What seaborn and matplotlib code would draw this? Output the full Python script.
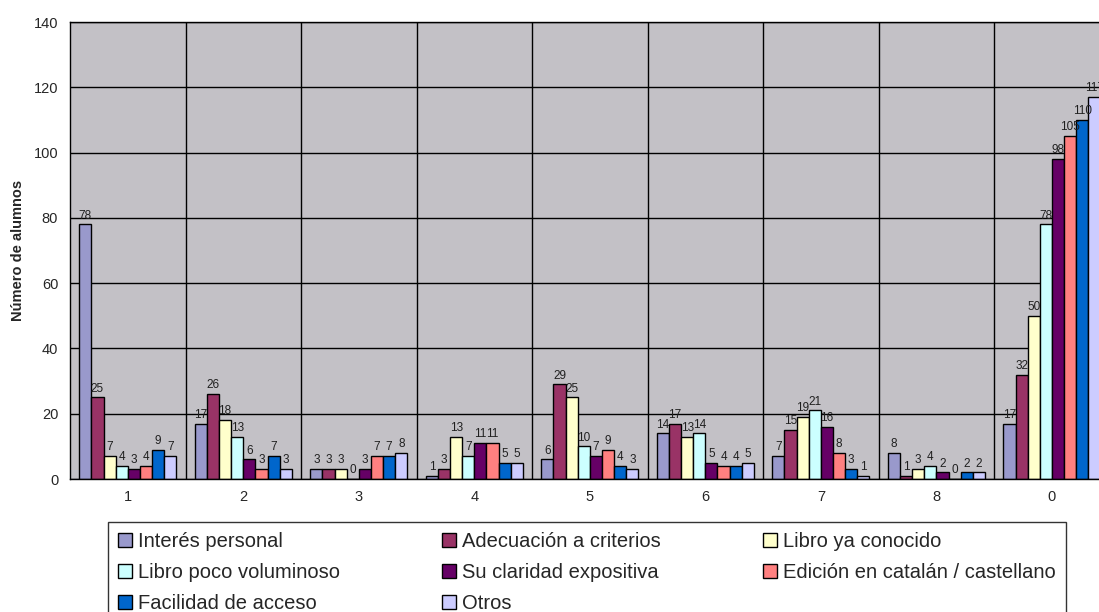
import seaborn as sns
import matplotlib.pyplot as plt
import pandas as pd

grupos = ['1', '2', '3', '4', '5', '6', '7', '8', '0']
motivos = ['Interés personal', 'Adecuación a criterios', 'Libro ya conocido',
           'Libro poco voluminoso', 'Su claridad expositiva',
           'Edición en catalán / castellano', 'Facilidad de acceso', 'Otros']

interes = [78, 17, 3, 1, 6, 14, 7, 8, 17]
adecuacion = [25, 26, 3, 3, 29, 17, 15, 1, 32]
conocido = [7, 18, 3, 13, 25, 13, 19, 3, 50]
voluminoso = [4, 13, 0, 7, 10, 14, 21, 4, 78]
claridad = [3, 6, 3, 11, 7, 5, 16, 2, 98]
edicion = [4, 3, 7, 11, 9, 4, 8, 0, 105]
acceso = [9, 7, 7, 5, 4, 4, 3, 2, 110]
otros = [7, 3, 8, 5, 3, 5, 1, 2, 117]

colores = ['#9999CC', '#993366', '#FFFFCC', '#CCFFFF',
           '#660066', '#FF8080', '#0066CC', '#CCCCFF']

valores = [interes, adecuacion, conocido, voluminoso, claridad, edicion, acceso, otros]
rows = []
for motivo, serie in zip(motivos, valores):
    for g, v in zip(grupos, serie):
        rows.append({'grupo': g, 'motivo': motivo, 'alumnos': v})
df = pd.DataFrame(rows)

sns.set_style('white')
plt.rcParams['font.family'] = ['Liberation Sans', 'DejaVu Sans']

fig = plt.figure(figsize=(10.99, 6.12), dpi=100)
ax = fig.add_axes([0.0637, 0.2173, 0.946, 0.7467])
ax.set_facecolor('#C3C1C6')

sns.barplot(data=df, x='grupo', y='alumnos', hue='motivo', order=grupos,
            hue_order=motivos, palette=colores, width=0.84, edgecolor='black',
            linewidth=1, ax=ax, legend=False, saturation=1)

for cont in ax.containers:
    ax.bar_label(cont, fontsize=8.5, padding=2, color='#202020')

ax.set_ylim(0, 140)
ax.set_xlim(-0.5, 8.5)
ax.set_yticks(range(0, 141, 20))
ax.yaxis.grid(True, color='black', lw=1)
for b in [i + 0.5 for i in range(8)]:
    ax.axvline(b, color='black', lw=1, zorder=0.5)
ax.set_axisbelow(True)
ax.set_xticks(range(9))
ax.set_xticklabels(grupos)
ax.set_xticks([i - 0.5 for i in range(10)], minor=True)
ax.tick_params(axis='x', which='major', length=0, labelsize=10.5, pad=8)
ax.tick_params(axis='x', which='minor', length=5, width=1, direction='out', color='black')
ax.tick_params(axis='y', length=5, width=1, direction='out', color='black', labelsize=10.5)
ax.set_xlabel('')
ax.set_ylabel('Número de alumnos', fontsize=10.5, fontweight='bold', labelpad=6)
for s in ax.spines.values():
    s.set_color('black')
    s.set_linewidth(1)

handles = [plt.Rectangle((0, 0), 1, 1, facecolor=c, edgecolor='black', lw=1) for c in colores]
orden = [0, 3, 6, 1, 4, 7, 2, 5]
leg = fig.legend([handles[i] for i in orden], [motivos[i] for i in orden],
                 ncol=3, loc='upper left', bbox_to_anchor=(0.098, 0.147, 0.872, 0.0),
                 mode='expand', fontsize=14.5, frameon=True, fancybox=False,
                 edgecolor='black', handlelength=0.7, handleheight=0.7,
                 handletextpad=0.3, labelspacing=0.6, borderpad=0.5,
                 borderaxespad=0)
leg.get_frame().set_linewidth(1)

fig.savefig('out.png', dpi=100)
